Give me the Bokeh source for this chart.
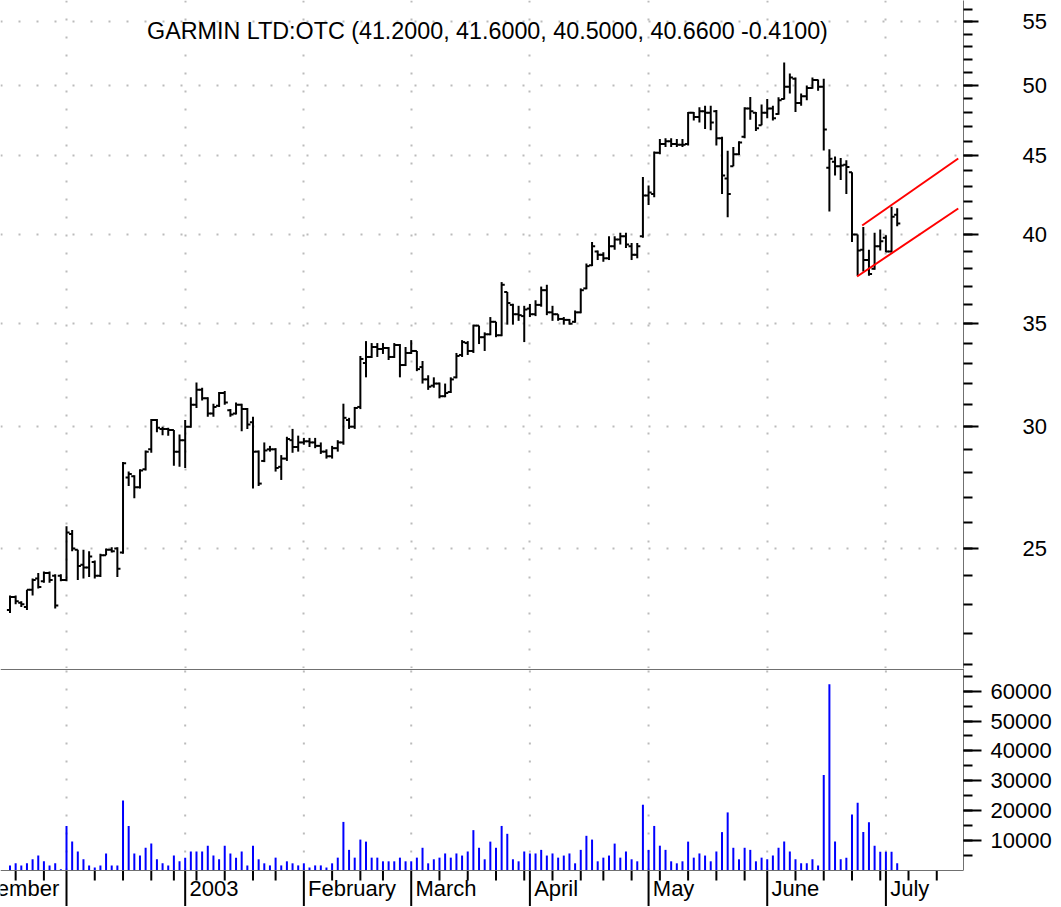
import numpy as np
import pandas as pd
from bokeh.plotting import figure
from bokeh.layouts import column
from bokeh.models import Range1d, FixedTicker, PrintfTickFormatter, ColumnDataSource, Span
from bokeh.embed import file_html
from bokeh.resources import INLINE
from bokeh.core.properties import value

# ---------------- data ----------------
opens = [22.80,23.25,23.05,22.90,23.50,23.90,23.80,24.10,24.00,24.00,
         23.85,25.55,24.95,24.40,24.30,24.50,24.00,24.75,24.95,25.00,
         24.85,27.80,27.85,27.40,28.15,29.00,30.30,29.90,29.90,29.85,
         28.90,29.40,30.00,31.00,31.70,31.30,30.60,30.95,31.55,30.75,
         30.60,31.00,30.80,30.20,28.90,28.50,29.00,29.00,28.25,28.60,
         29.40,29.10,29.30,29.35,29.30,29.15,28.90,28.70,29.05,29.30,
         30.30,30.00,30.90,33.00,33.30,33.80,33.70,33.75,33.30,33.90,
         32.90,33.50,33.60,32.80,32.20,31.90,32.00,31.40,31.60,32.30,
         33.40,34.00,33.60,34.90,34.30,34.45,35.10,34.40,36.70,36.00,
         35.50,35.40,35.80,35.50,36.00,36.80,35.60,35.50,35.25,35.20,
         35.10,35.60,36.90,38.20,39.00,38.80,38.60,39.30,39.70,39.90,
         39.30,38.80,39.90,42.40,42.50,45.20,45.80,46.00,45.80,45.75,
         45.80,48.00,47.70,48.10,48.00,48.10,46.20,43.50,44.30,45.10,
         46.30,48.30,48.00,47.10,48.00,48.30,47.90,49.00,49.90,50.50,
         48.70,49.20,49.80,50.40,49.90,44.20,44.60,44.30,44.40,43.90,
         40.00,39.10,38.50,38.00,39.30,39.80,39.00,41.20]
highs = [23.30,23.30,23.10,23.50,23.90,24.10,24.15,24.15,24.05,24.05,
         25.85,25.70,24.95,24.95,24.90,24.55,24.80,25.00,25.05,25.05,
         28.45,28.05,27.90,28.15,28.95,30.35,30.35,30.00,29.95,29.85,
         29.65,30.30,31.35,32.05,31.80,31.35,31.05,31.60,31.65,30.80,
         31.10,31.05,30.85,30.45,28.95,29.30,29.15,29.05,28.75,29.55,
         29.90,29.60,29.50,29.50,29.50,29.30,29.00,29.15,29.40,31.05,
         30.40,30.90,33.35,34.10,34.00,34.00,34.00,33.80,34.00,33.95,
         33.80,34.15,33.60,33.10,32.40,32.30,32.05,32.00,32.30,33.50,
         34.15,34.10,34.95,34.90,34.55,35.35,35.10,37.25,36.70,36.06,
         35.95,35.95,36.05,36.25,37.00,37.10,35.95,35.50,35.35,35.25,
         35.70,36.90,38.30,39.55,39.05,38.95,39.90,39.90,40.10,40.10,
         39.50,39.50,43.60,43.05,45.30,46.15,46.20,46.20,46.15,46.15,
         48.05,48.05,48.40,48.50,48.50,48.20,46.30,45.35,45.60,46.00,
         48.40,49.15,48.05,48.60,49.00,48.50,49.13,51.75,50.90,50.60,
         49.40,50.00,50.60,50.45,50.50,45.45,44.95,44.85,44.70,43.90,
         40.00,40.45,39.10,40.10,40.30,39.95,41.70,41.60]
lows = [22.70,23.00,22.90,22.80,23.30,23.55,23.75,23.75,22.85,23.80,
        23.80,24.90,23.85,23.90,23.95,23.90,23.95,24.75,24.85,23.95,
        24.80,27.45,26.95,27.35,28.10,28.85,29.75,29.62,29.60,28.30,
        28.25,28.20,29.95,30.85,31.20,30.45,30.45,30.90,31.00,30.45,
        30.55,29.80,29.90,27.35,27.45,28.45,28.90,28.05,27.70,28.50,
        28.85,28.90,29.20,29.10,29.05,28.80,28.60,28.60,28.90,29.20,
        29.90,29.90,30.80,32.30,33.25,33.30,33.45,33.15,33.25,32.30,
        32.85,33.45,32.60,32.00,31.70,31.80,31.30,31.35,31.55,32.25,
        33.30,33.40,33.50,33.95,33.60,34.40,34.30,34.35,34.95,34.95,
        35.15,34.05,35.35,35.40,35.90,35.45,35.15,35.15,34.95,34.95,
        35.05,35.55,36.85,38.15,38.50,38.40,38.50,39.10,39.40,39.20,
        38.50,38.60,39.80,41.80,42.30,45.10,45.60,45.60,45.60,45.60,
        45.70,47.45,47.30,46.85,46.75,45.70,42.50,41.05,44.30,45.05,
        46.20,47.50,46.70,47.10,47.60,47.45,47.85,48.95,49.40,48.05,
        48.50,48.90,49.75,49.60,45.36,41.40,43.70,43.40,42.50,39.55,
        37.60,37.85,37.60,37.95,39.05,38.95,38.95,40.50]
closes = [23.25,23.10,23.00,23.50,23.85,23.60,24.10,23.85,22.95,23.85,
          25.60,25.00,24.35,24.30,24.70,24.00,24.75,24.95,24.90,24.25,
          28.40,27.95,27.40,28.10,28.90,30.30,29.95,29.90,29.85,28.90,
          29.40,30.00,31.00,31.70,31.30,30.60,30.90,31.55,31.10,30.55,
          31.00,30.80,30.10,28.90,27.55,28.95,29.00,28.20,28.60,29.45,
          29.10,29.30,29.35,29.30,29.15,28.90,28.70,29.05,29.30,30.40,
          30.00,30.85,33.20,33.30,33.80,33.70,33.75,33.30,33.90,32.90,
          33.50,33.60,32.70,32.20,31.85,32.00,31.40,31.55,32.20,33.35,
          34.05,33.60,34.90,34.30,34.45,35.10,34.40,37.10,36.10,35.50,
          35.45,35.75,35.50,36.00,36.80,35.60,35.50,35.25,35.20,35.00,
          35.60,36.80,38.15,39.30,38.80,38.60,39.30,39.70,39.90,39.40,
          38.80,39.30,42.40,42.60,45.20,45.80,46.00,45.80,45.75,45.75,
          48.00,47.70,48.10,48.00,47.30,46.20,43.70,42.50,45.10,45.90,
          48.30,48.10,46.90,48.00,48.30,47.60,48.90,49.90,50.60,48.70,
          49.20,49.80,50.40,49.90,46.80,44.80,44.30,44.35,44.25,40.00,
          39.05,38.50,37.70,39.30,39.60,39.00,41.07,40.66]
volumes = [1700,2400,1700,2400,3750,5000,3070,1700,2400,450,
           14900,9660,6360,3750,1700,1000,1700,5700,1700,1700,
           23400,14900,5700,5000,7600,9000,3750,2400,1700,5000,
           3070,4300,6360,6360,6360,8300,5000,3750,8300,5700,
           4300,6360,1700,8300,3750,2400,1700,4300,1700,3070,
           2400,1700,2400,1000,1700,1700,1000,2400,4300,16250,
           6900,4300,10340,9660,4300,4300,3070,3070,3070,4300,
           3070,3070,4300,7600,2400,3750,4300,5700,4300,5700,
           5000,6360,13500,7600,3750,9660,7600,14900,12270,3750,
           3070,6360,5700,5700,6900,5000,5700,4300,5000,5700,
           2400,6900,11600,10340,3070,4300,5000,9000,4300,6360,
           3750,3070,22000,6900,14900,8300,6900,3070,2400,3070,
           9660,4300,5700,5000,3070,6360,12840,19430,7600,3750,
           7600,6900,3070,4300,3750,5000,7600,9660,6360,3750,
           2400,2400,3750,1700,31900,62300,9660,3750,4300,18750,
           22700,12840,16140,8300,6300,6300,6300,2400]

holidays = ["2002-11-28", "2002-12-25", "2003-01-01", "2003-01-20",
            "2003-02-17", "2003-04-18", "2003-05-26"]
month_keys = ["2002-11", "2002-12", "2003-01", "2003-02", "2003-03",
              "2003-04", "2003-05", "2003-06", "2003-07"]
month_names = ["November", "", "2003", "February", "March",
               "April", "May", "June", "July"]
price_ticks = [25, 30, 35, 40, 45, 50, 55]
price_minor = list(range(21, 57))
volume_ticks = [10000, 20000, 30000, 40000, 50000, 60000]
volume_minor = list(range(5000, 70000, 5000))
title_text = "GARMIN LTD:OTC (41.2000, 41.6000, 40.5000, 40.6600 -0.4100)"
channel_upper_x = [150.8, 167.8]
channel_upper_y = [40.54, 44.82]
channel_lower_x = [149.9, 167.8]
channel_lower_y = [37.56, 41.59]

# ---------------- calendar ----------------
trade_days = [d for d in pd.bdate_range("2002-11-15", "2003-07-03")
              if d.strftime("%Y-%m-%d") not in holidays]
future_days = list(pd.bdate_range("2003-07-04", "2003-07-31"))
all_days = trade_days + future_days
n = len(closes)
xs = np.arange(n, dtype=float)

month_idx = {}
for i in range(1, len(all_days)):
    if all_days[i].month != all_days[i - 1].month:
        month_idx[all_days[i].strftime("%Y-%m")] = i
month_idx["2002-11"] = -len(pd.bdate_range("2002-11-01", "2002-11-14"))
month_starts = [month_idx[k] for k in month_keys if k in month_idx]
week_starts = [i for i in range(1, len(all_days))
               if all_days[i].isocalendar()[1] != all_days[i - 1].isocalendar()[1]
               and i not in month_starts]

# ---------------- layout ----------------
BAR = 5.651          # px per trading day
X0 = 9.5             # canvas px of first bar
FW = 963
PH = 668
VH = 238
x_start = -X0 / BAR
x_end = (FW - X0) / BAR

def price_at(py):    # canvas px (from top) -> price
    return 40.0 * np.exp((234.0 - py) / 668.0)

VPX = 29.9 / 10000.0  # px per volume unit
v_top = 202 / VPX
v_bot = -(VH - 202) / VPX

FONT = "Liberation Sans"
GRID = "#BBBBBB"

src = ColumnDataSource(dict(x=xs, xl=xs - 0.55, xr=xs + 0.55,
                            o=opens, h=highs, l=lows, c=closes,
                            v=volumes, z=[0] * n))

# ---------------- price panel ----------------
p = figure(frame_width=FW, frame_height=PH,
           x_range=Range1d(x_start, x_end),
           y_range=Range1d(price_at(PH), price_at(0)),
           y_axis_type="log", y_axis_location="right", x_axis_location=None,
           output_backend="svg", toolbar_location=None, min_border=0)
p.outline_line_color = None
p.background_fill_color = "white"
p.border_fill_color = "white"

ax = p.yaxis[0]
ax.ticker = FixedTicker(ticks=price_ticks, minor_ticks=price_minor)
ax.formatter = PrintfTickFormatter(format="%d")
ax.axis_line_color = "#707070"
ax.major_tick_in = 0
ax.major_tick_out = 15
ax.minor_tick_in = 0
ax.minor_tick_out = 9
ax.major_tick_line_width = 2
ax.minor_tick_line_width = 2
ax.major_tick_line_color = "black"
ax.minor_tick_line_color = "black"
ax.major_label_standoff = 44
ax.major_label_text_font = FONT
ax.major_label_text_font_size = "22px"
ax.major_label_text_color = "black"

p.ygrid.ticker = FixedTicker(ticks=price_ticks)
p.xgrid.ticker = FixedTicker(ticks=month_starts)
for g in (p.xgrid, p.ygrid):
    g.grid_line_color = GRID
    g.grid_line_width = 2
    g.grid_line_dash = "2 16"

p.segment(x0="x", y0="l", x1="x", y1="h", source=src, line_color="black", line_width=2)
p.segment(x0="xl", y0="o", x1="x", y1="o", source=src, line_color="black", line_width=2)
p.segment(x0="x", y0="c", x1="xr", y1="c", source=src, line_color="black", line_width=2)

p.line(channel_upper_x, channel_upper_y, line_color="red", line_width=2)
p.line(channel_lower_x, channel_lower_y, line_color="red", line_width=2)

p.text(x=[(487 - X0) / BAR], y=[price_at(30)], text=[title_text],
       text_font=value(FONT), text_font_size=value("23.3px"),
       text_align="center", text_baseline="middle", text_color="black")

# ---------------- volume panel ----------------
v = figure(frame_width=FW, frame_height=VH,
           x_range=p.x_range, y_range=Range1d(v_bot, v_top),
           y_axis_location="right", x_axis_location=None,
           output_backend="svg", toolbar_location=None, min_border=0)
v.outline_line_color = None
v.background_fill_color = "white"
v.border_fill_color = "white"
v.xgrid.visible = False
v.ygrid.visible = False

vax = v.yaxis[0]
vax.ticker = FixedTicker(ticks=volume_ticks, minor_ticks=volume_minor)
vax.formatter = PrintfTickFormatter(format="%d")
vax.bounds = (0, v_top)
vax.axis_line_color = "#707070"
vax.major_tick_in = 0
vax.major_tick_out = 18
vax.minor_tick_in = 0
vax.minor_tick_out = 9
vax.major_tick_line_width = 2
vax.minor_tick_line_width = 2
vax.major_tick_line_color = "black"
vax.minor_tick_line_color = "black"
vax.major_label_standoff = 9
vax.major_label_text_font = FONT
vax.major_label_text_font_size = "22px"
vax.major_label_text_color = "black"

# vertical dotted month grid
v.segment(x0=month_starts, y0=[0] * len(month_starts), x1=month_starts,
          y1=[v_top] * len(month_starts), line_color=GRID, line_width=2, line_dash="2 16")

v.segment(x0="x", y0="z", x1="x", y1="v", source=src, line_color="#0000FF", line_width=2)

v.add_layout(Span(location=0, dimension="width", line_color="#707070", line_width=1))
v.add_layout(Span(location=(870 - 669) / VPX, dimension="width", line_color="#707070", line_width=1))

# date axis: long month ticks, short week ticks
v.segment(x0=month_starts, y0=[0] * len(month_starts), x1=month_starts,
          y1=[v_bot] * len(month_starts), line_color="black", line_width=2)
v.segment(x0=week_starts, y0=[0] * len(week_starts), x1=week_starts,
          y1=[-10 / VPX] * len(week_starts), line_color="black", line_width=2)

lab_x = [month_idx[k] + 0.75 for k, nm in zip(month_keys, month_names) if nm]
lab_t = [nm for nm in month_names if nm]
v.text(x=lab_x, y=[-18 / VPX] * len(lab_x), text=lab_t,
       text_font=value(FONT), text_font_size=value("22px"),
       text_align="left", text_baseline="middle", text_color="black")

layout = column(p, v, spacing=0)
open("out.html", "w").write(file_html(layout, INLINE))
